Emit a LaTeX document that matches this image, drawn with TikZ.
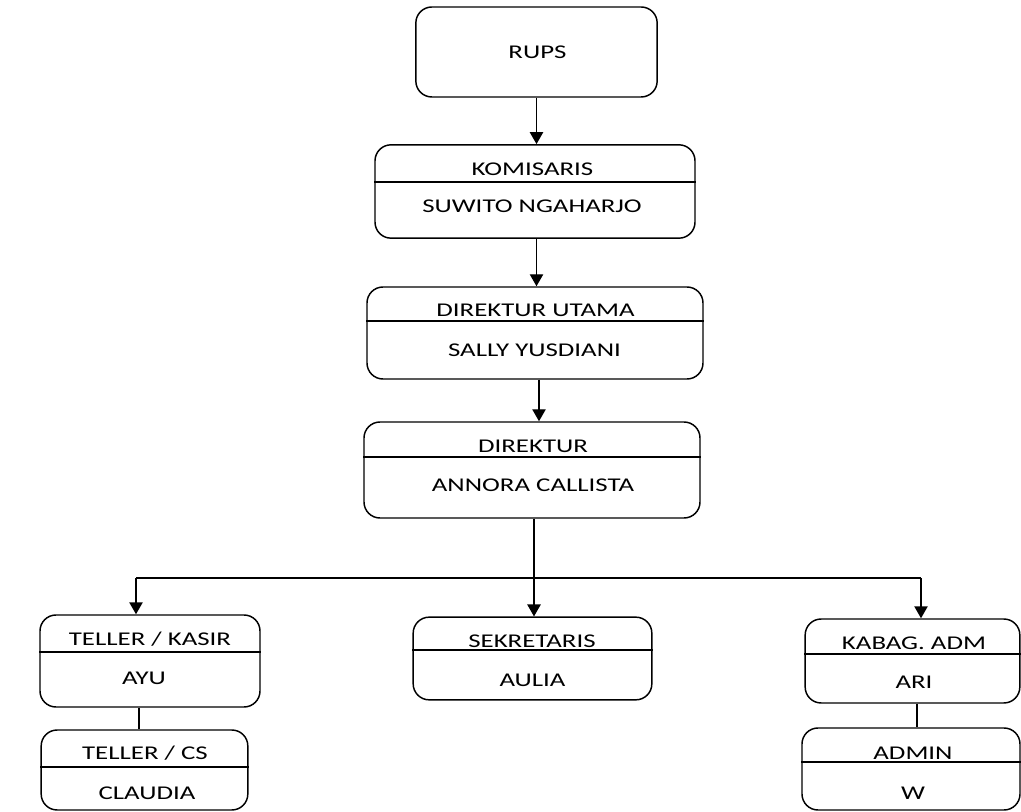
\documentclass[tikz,border=0pt]{standalone}
\usepackage{fontspec}
\setmainfont{Carlito}[FakeStretch=1.38]
\usetikzlibrary{arrows.meta}

\tikzset{every picture/.style={line width=1.1pt}}
\tikzset{
  box/.style={draw, rounded corners=12pt, inner sep=0pt},
  txt/.style={anchor=base, inner sep=0.75pt, font=\fontsize{14.6pt}{17pt}\selectfont},
  arr/.style={-{Triangle[width=10pt,length=9pt]}}
}

\begin{document}
\begin{tikzpicture}[x=0.75pt,y=0.75pt,yscale=-1,xscale=1]
\useasboundingbox (0,0) rectangle (1021,812);

% Boxes
\node[box, minimum width=181pt, minimum height=67.5pt] (rups) at (536.5,52) {};
\node[box, minimum width=240pt, minimum height=70pt] (kom) at (535,191.5) {};
\node[box, minimum width=252pt, minimum height=69pt] (dirut) at (535,333) {};
\node[box, minimum width=252pt, minimum height=72pt] (dir) at (532,470) {};
\node[box, minimum width=165pt, minimum height=69pt] (tk) at (150,661) {};
\node[box, minimum width=155pt, minimum height=60pt] (tcs) at (144.5,770) {};
\node[box, minimum width=179pt, minimum height=62pt] (sek) at (532.5,658.5) {};
\node[box, minimum width=161pt, minimum height=63pt] (kab) at (912.5,661) {};
\node[box, minimum width=163.5pt, minimum height=61.5pt] (adm) at (911,769) {};

% Dividers
\draw (kom.west |- 0,182) -- (kom.east |- 0,182);
\draw (dirut.west |- 0,321) -- (dirut.east |- 0,321);
\draw (dir.west |- 0,457) -- (dir.east |- 0,457);
\draw (tk.west |- 0,652) -- (tk.east |- 0,652);
\draw (tcs.west |- 0,767) -- (tcs.east |- 0,767);
\draw (sek.west |- 0,650) -- (sek.east |- 0,650);
\draw (kab.west |- 0,654) -- (kab.east |- 0,654);
\draw (adm.west |- 0,762) -- (adm.east |- 0,762);

% Text Nodes
\node[txt] (rupsT) at (537.5,59) {RUPS};
\node[txt] (komT) at (532.5,176) {KOMISARIS};
\node[txt] (komN) at (532,213) {SUWITO NGAHARJO};
\node[txt] (dirutT) at (535.5,317) {DIREKTUR UTAMA};
\node[txt] (dirutN) at (534.5,357) {SALLY YUSDIANI};
\node[txt] (dirT) at (533,453) {DIREKTUR};
\node[txt] (dirN) at (533,492) {ANNORA CALLISTA};
\node[txt] (tkT) at (150,645) {TELLER / KASIR};
\node[txt] (tkN) at (144,684) {AYU};
\node[txt] (tcsT) at (145,759) {TELLER / CS};
\node[txt] (tcsN) at (147,799) {CLAUDIA};
\node[txt] (sekT) at (532,647) {SEKRETARIS};
\node[txt] (sekN) at (532.5,686) {AULIA};
\node[txt] (kabT) at (914,649) {KABAG. ADM};
\node[txt] (kabN) at (914,688) {ARI};
\node[txt] (admT) at (913,759) {ADMIN};
\node[txt] (admN) at (913,799) {W};

% Connectors
\coordinate (busL) at (136,578);
\coordinate (busR) at (921,578);
\draw[arr] (rups.south) -- (rups.south |- kom.north);
\draw[arr] (rups.south |- kom.south) -- (rups.south |- dirut.north);
\draw[arr] (dirut.south -| 539,0) -- (dir.north -| 539,0);
\draw[arr] (dir.south -| 534,0) -- (sek.north -| 534,0);
\draw (busL) -- (busR);
\draw[arr] (busL) -- (busL |- tk.north);
\draw[arr] (busR) -- (busR |- kab.north);
\draw (tk.south -| 139,0) -- (tcs.north -| 139,0);
\draw (kab.south -| 917,0) -- (adm.north -| 917,0);

\end{tikzpicture}
\end{document}
